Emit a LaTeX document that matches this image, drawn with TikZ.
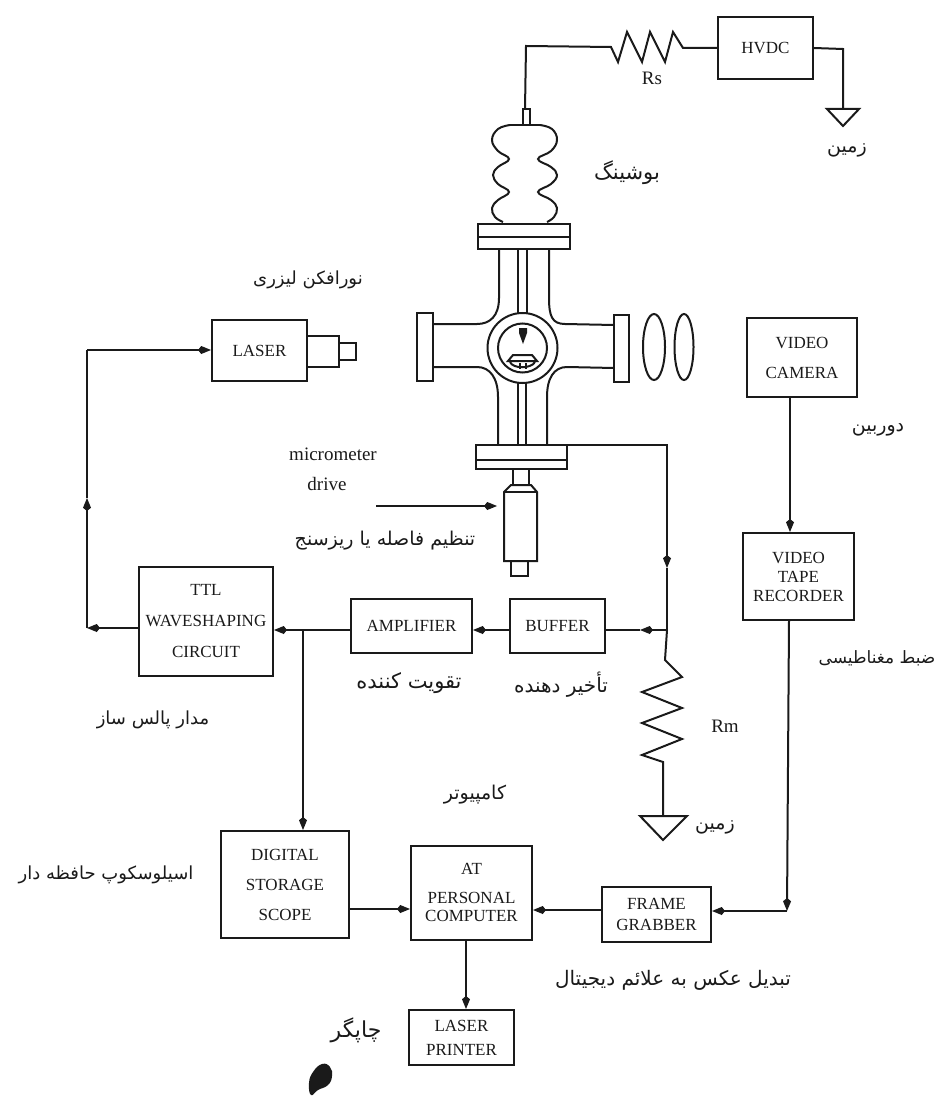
\documentclass[tikz,border=0pt]{standalone}
\usepackage{fontspec}
\usepackage{xcolor}
\usetikzlibrary{arrows.meta}
\setmainfont{Liberation Serif}
\newfontfamily\farsifont[Script=Arabic]{DejaVu Sans}
\TeXXeTstate=1
\definecolor{inkgray}{HTML}{1A1A1A}
\newcommand{\fa}[1]{{\farsifont\beginR #1\endR}}
\tikzset{
  blockbox/.style={draw=inkgray, fill=white, inner sep=0pt, align=center, text=inkgray,
    font=\fontsize{17}{18}\selectfont},
  farsilabel/.style={inner sep=0pt, text=inkgray, font=\fontsize{19}{21}\selectfont},
  latinlabel/.style={inner sep=0pt, text=inkgray, font=\fontsize{19}{21}\selectfont},
}
\begin{document}
\begin{tikzpicture}[x=1pt, y=-1pt, >={Kite[length=13pt,width=8pt]}, line width=2pt, draw=inkgray]
  \useasboundingbox (0,0) rectangle (941,1099);

  % blocks
  \node[blockbox, minimum width=95pt, minimum height=62pt] (hvdc) at (765.5,48) {HVDC};
  \node[blockbox, minimum width=95pt, minimum height=61pt] (laser) at (259.5,350.5) {LASER};
  \node[blockbox, minimum width=110pt, minimum height=79pt] (camera) at (802,357.5) {VIDEO\\[12pt]CAMERA};
  \node[blockbox, minimum width=111pt, minimum height=87pt] (recorder) at (798.5,576.5) {VIDEO\\[1pt]TAPE\\[1pt]RECORDER};
  \node[blockbox, minimum width=134pt, minimum height=109pt] (ttl) at (206,621.5) {TTL\\[13pt]WAVESHAPING\\[13pt]CIRCUIT};
  \node[blockbox, minimum width=121pt, minimum height=54pt] (amplifier) at (411.5,626) {AMPLIFIER};
  \node[blockbox, minimum width=95pt, minimum height=54pt] (buffer) at (557.5,626) {BUFFER};
  \node[blockbox, minimum width=128pt, minimum height=107pt] (scope) at (285,884.5) {DIGITAL\\[12pt]STORAGE\\[12pt]SCOPE};
  \node[blockbox, minimum width=121pt, minimum height=94pt] (computer) at (471.5,892.5) {AT\\[11pt]PERSONAL\\[0pt]COMPUTER};
  \node[blockbox, minimum width=105pt, minimum height=55pt] (printer) at (461.5,1037.5) {LASER\\[6pt]PRINTER};
  \node[blockbox, minimum width=109pt, minimum height=55pt] (grabber) at (656.5,914.5) {FRAME\\[3pt]GRABBER};

  % printed labels
  \node[latinlabel] (rslabel) at (652,78) {Rs};
  \node[latinlabel] (rmlabel) at (725,726) {Rm};
  \node[latinlabel] (microlabel) at (333,454) {micrometer};
  \node[latinlabel] (drivelabel) at (327,484) {drive};
  \node[farsilabel, font=\fontsize{21}{23}\selectfont] (bushing) at (627,173) {\fa{بوشینگ}};
  \node[farsilabel] (earthtop) at (847,150) {\fa{زمین}};
  \node[farsilabel, font=\fontsize{18}{20}\selectfont] (lamp) at (308,280) {\fa{نورافکن لیزری}};
  \node[farsilabel] (cam) at (878,430) {\fa{دوربین}};
  \node[farsilabel] (gapset) at (385,541) {\fa{تنظیم فاصله یا ریزسنج}};
  \node[farsilabel, font=\fontsize{21}{23}\selectfont] (amp) at (409,683) {\fa{تقویت کننده}};
  \node[farsilabel, font=\fontsize{20}{22}\selectfont] (delay) at (561,685) {\fa{تأخیر دهنده}};
  \node[farsilabel, font=\fontsize{18}{20}\selectfont] (shaper) at (153,720) {\fa{مدار پالس ساز}};
  \node[farsilabel, font=\fontsize{17}{19}\selectfont] (tape) at (877,658) {\fa{ضبط مغناطیسی}};
  \node[farsilabel] (pc) at (475,795) {\fa{کامپیوتر}};
  \node[farsilabel] (earthlow) at (715,827) {\fa{زمین}};
  \node[farsilabel, font=\fontsize{18}{20}\selectfont] (osc) at (106,875) {\fa{اسیلوسکوپ حافظه دار}};
  \node[farsilabel, font=\fontsize{20}{22}\selectfont] (digit) at (673,980) {\fa{تبدیل عکس به علائم دیجیتال}};
  \node[farsilabel, font=\fontsize{22}{24}\selectfont] (prn) at (356,1030) {\fa{چاپگر}};

  % bushing and chamber
  \draw (523,125) rectangle (530,109);
  \draw plot[smooth, tension=0.7] coordinates {(510,125) (498,129) (492,140) (498,151) (509,159) (498,167) (493,175) (498,184) (509,192) (498,200) (492,208) (495,217) (503,222)};
  \draw plot[smooth, tension=0.7] coordinates {(540,125) (552,129) (557,140) (551,151) (538,159) (551,167) (557,175) (551,184) (538,192) (551,200) (557,208) (554,217) (547,222)};
  \draw (510,125) -- (540,125);
  \draw (478,224) rectangle (570,249);
  \draw (478,237) -- (570,237);
  \draw (476,445) rectangle (567,469);
  \draw (476,460) -- (567,460);
  \draw (417,313) rectangle (433,381);
  \draw (614,315) rectangle (629,382);
  \draw (499,249) -- (499,298) .. controls (499,316) and (490,324) .. (477,324) -- (433,324);
  \draw (549,249) -- (549,298) .. controls (549,316) and (552,324) .. (565,324) -- (614,325);
  \draw (498,445) -- (498,397) .. controls (498,378) and (490,367) .. (477,367) -- (433,367);
  \draw (547,445) -- (547,397) .. controls (547,378) and (554,367) .. (567,367) -- (614,368);
  \draw (518,249) -- (518,314);
  \draw (527,249) -- (527,314);
  \draw (518,382) -- (518,445);
  \draw (526,382) -- (526,445);
  \draw (522.5,348) circle (35pt);
  \draw (522.5,348) circle (24.5pt);
  \fill[inkgray] (519,328) -- (527,328) -- (527,333) -- (523,344) -- (519,333) -- cycle;
  \draw (508,361) -- (513,355) -- (532,355) -- (537,361) -- cycle;
  \draw (510,362) .. controls (513,369) and (531,369) .. (535,362);
  \draw (520,363) -- (520,369);
  \draw (526,363) -- (526,369);
  \draw (654,347) ellipse (11pt and 33pt);
  \draw (684,347) ellipse (9.5pt and 33pt);

  % laser head
  \draw (307,336) rectangle (339,367);
  \draw (339,343) rectangle (356,360);

  % micrometer
  \draw (513,469) rectangle (529,485);
  \draw (504,561) -- (504,492) -- (511,485) -- (531,485) -- (537,492) -- (537,561) -- cycle;
  \draw (504,492) -- (537,492);
  \draw (511,561) rectangle (528,576);
  \coordinate (microstart) at (376,506);
  \coordinate (microend) at (497,506);
  \draw[->, line width=1.4pt] (microstart) -- (microend);

  % high voltage side
  \coordinate (rsleft) at (611,47);
  \coordinate (rsright) at (683,48);
  \coordinate (pintop) at (525,109);
  \draw (pintop) -- (526,46) -- (rsleft) -- (618,62) -- (627,32) -- (642,62) -- (650,32) -- (665,62) -- (673,32) -- (rsright) -- (hvdc.west);
  \coordinate (earthin) at (843,109);
  \draw (hvdc.east) -- (843,49) -- (earthin);
  \draw (827,109) -- (859,109) -- (843,126) -- cycle;

  % measuring branch
  \coordinate (flangeout) at (567,445);
  \coordinate (rmcorner) at (667,445);
  \coordinate (rmtop) at (667,630);
  \coordinate (rmdown) at (667,568);
  \draw[->] (flangeout) -- (rmcorner) -- (rmdown);
  \draw (rmdown) -- (rmtop);
  \coordinate (earthrm) at (663,815);
  \draw (rmtop) -- (665,660) -- (682,677) -- (642,692) -- (682,708) -- (642,723) -- (682,739) -- (642,755) -- (663,762) -- (earthrm);
  \draw (640,816) -- (687,816) -- (663,840) -- cycle;

  % signal chain
  \coordinate (bufin) at (640,630);
  \coordinate (scopetap) at (303,630);
  \draw[->] (rmtop) -- (bufin);
  \draw (bufin) -- (buffer.east |- bufin);
  \draw[->] (buffer.west |- bufin) -- (amplifier.east |- bufin);
  \draw[->] (amplifier.west |- scopetap) -- (ttl.east |- scopetap);
  \draw[->] (scopetap) -- (scopetap |- scope.north);

  % laser trigger
  \coordinate (ttlcorner) at (87,628);
  \coordinate (trigup) at (87,498);
  \coordinate (lasecorner) at (87,350);
  \draw[->] (ttl.west |- ttlcorner) -- (ttlcorner);
  \draw[->] (ttlcorner) -- (trigup);
  \draw (trigup) -- (lasecorner);
  \draw[->] (lasecorner) -- (laser.west |- lasecorner);

  % video chain
  \coordinate (camdown) at (790,397);
  \coordinate (recout) at (789,620);
  \coordinate (grabcorner) at (787,911);
  \draw[->] (camdown) -- (camdown |- recorder.north);
  \draw[->] (recout) -- (grabcorner);
  \draw[->] (grabcorner) -- (grabber.east |- grabcorner);
  \coordinate (grabout) at (602,910);
  \draw[->] (grabout) -- (computer.east |- grabout);
  \coordinate (scopeout) at (349,909);
  \draw[->] (scopeout) -- (computer.west |- scopeout);
  \coordinate (pcout) at (466,939);
  \draw[->] (pcout) -- (pcout |- printer.north);

  % ink spot
  \fill[inkgray] plot[smooth cycle, tension=0.8] coordinates {(322,1064) (330,1067) (332,1076) (328,1085) (318,1090) (311,1095) (309,1083) (313,1072)};
\end{tikzpicture}
\end{document}
